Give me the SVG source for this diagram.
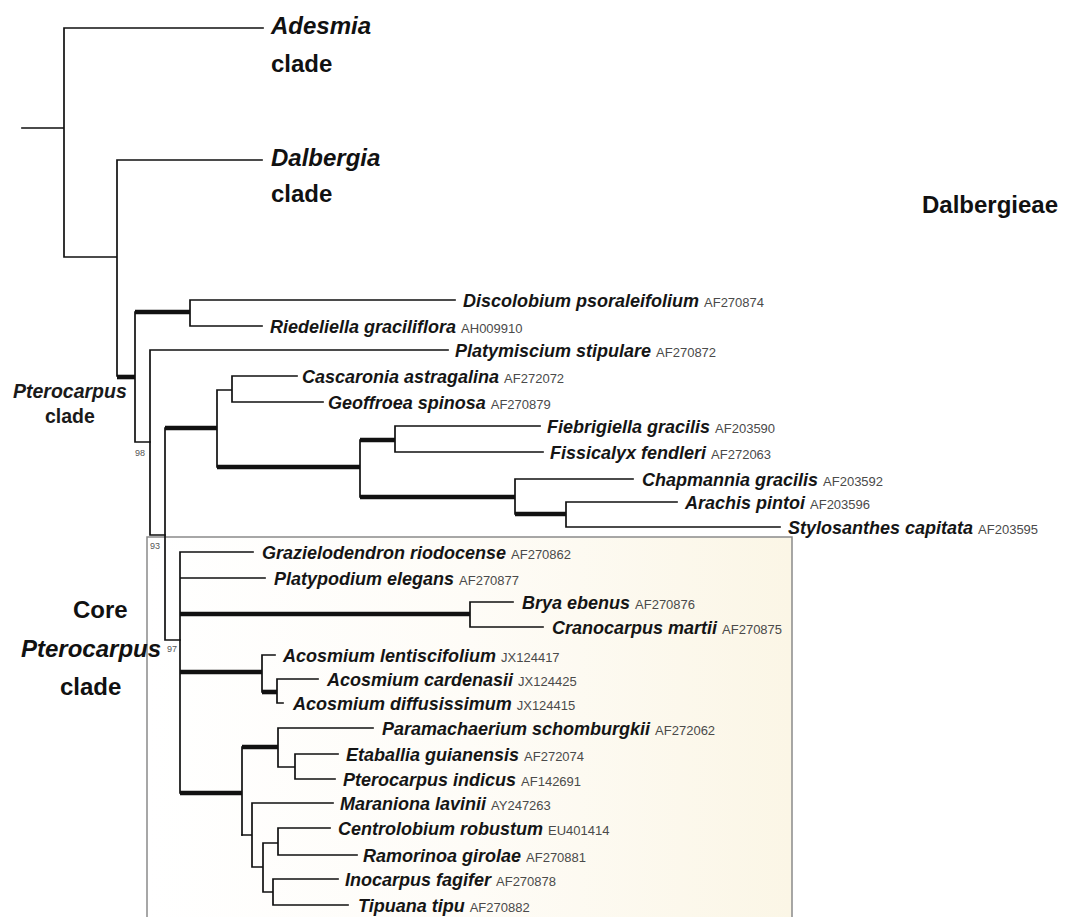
<svg xmlns="http://www.w3.org/2000/svg" width="1074" height="917" viewBox="0 0 1074 917">
<defs>
<linearGradient id="boxfill" x1="0" y1="0" x2="1" y2="0">
<stop offset="0" stop-color="#ffffff"/>
<stop offset="0.5" stop-color="#fefcf7"/>
<stop offset="1" stop-color="#fbf6e6"/>
</linearGradient>
<style>
.br{stroke:#111;stroke-width:1.7;fill:none;stroke-linecap:square}
.tk{stroke:#111;stroke-width:4.6;fill:none;stroke-linecap:butt}
.sp{font-family:"Liberation Sans",Arial,sans-serif;font-weight:bold;font-style:italic;font-size:18px;fill:#151515}
.acc{font-family:"Liberation Sans",Arial,sans-serif;font-weight:normal;font-style:normal;font-size:13px;fill:#4a4a4a}
.big{font-family:"Liberation Sans",Arial,sans-serif;font-weight:bold;font-size:24px;fill:#111}
.bigi{font-family:"Liberation Sans",Arial,sans-serif;font-weight:bold;font-style:italic;font-size:24px;fill:#111}
.mid{font-family:"Liberation Sans",Arial,sans-serif;font-weight:bold;font-size:19.5px;fill:#1a1a1a}
.bs{font-family:"Liberation Sans",Arial,sans-serif;font-size:9px;fill:#555}
</style>
</defs>
<rect width="1074" height="917" fill="#ffffff"/>

<g id="core-box">
<rect x="147" y="537" width="645" height="390" fill="url(#boxfill)" stroke="#8a8a8a" stroke-width="1.5"/>
</g>

<g id="connectors">
<path class="br" d="M22 128H64M64 28V257M64 28H263M64 257H117M117 160V376M117 160H262"/>
<path class="tk" d="M117 377H135"/>
<path class="br" d="M135 312V442M135 442H150"/>
<path class="tk" d="M135 312H190"/>
<path class="br" d="M190 300V326M190 300H455M190 326H262"/>
<path class="br" d="M150 350V535M150 350H448M150 535H165"/>
<path class="br" d="M165 428V640M165 640H180"/>
<path class="tk" d="M165 428H217"/>
<path class="br" d="M217 390V467M217 390H232M232 376V402M232 376H297M232 402H323"/>
<path class="tk" d="M217 467H360"/>
<path class="br" d="M360 440V497"/>
<path class="tk" d="M360 440H395"/>
<path class="br" d="M395 426V452M395 426H540M395 452H543"/>
<path class="tk" d="M360 497H515"/>
<path class="br" d="M515 479V514M515 479H633"/>
<path class="tk" d="M515 514H566"/>
<path class="br" d="M566 502V527M566 502H677M566 527H780"/>
<path class="br" d="M180 552V793M180 552H253M180 578H265"/>
<path class="tk" d="M180 614H470"/>
<path class="br" d="M470 602V627M470 602H513M470 627H543"/>
<path class="tk" d="M180 672H262"/>
<path class="br" d="M262 655V692M262 655H275"/>
<path class="tk" d="M262 692H277"/>
<path class="br" d="M277 679V703M277 679H318M277 703H283"/>
<path class="tk" d="M180 793H242"/>
<path class="br" d="M242 747V835"/>
<path class="tk" d="M242 747H278"/>
<path class="br" d="M278 728V767M278 728H373M278 767H295M295 754V779M295 754H338M295 779H335"/>
<path class="br" d="M242 835H252M252 803V867M252 803H333M252 867H263M263 843V892M263 843H278M278 828V855M278 828H330M278 855H357M263 892H273M273 879V905M273 879H338M273 905H348"/>
</g>

<g id="support-values">
<text class="bs" x="135" y="456">98</text>
<text class="bs" x="150" y="549">93</text>
<text class="bs" x="167" y="652">97</text>
</g>

<g id="clade-adesmia"><text class="bigi" x="271" y="34">Adesmia</text><text class="big" x="271" y="72">clade</text></g>
<g id="clade-dalbergia"><text class="bigi" x="271" y="166">Dalbergia</text><text class="big" x="271" y="202">clade</text></g>
<g id="tribe-dalbergieae"><text class="big" x="922" y="213">Dalbergieae</text></g>
<g id="clade-pterocarpus"><text class="mid" x="13" y="398" font-style="italic">Pterocarpus</text><text class="mid" x="45" y="423">clade</text></g>
<g id="clade-core"><text class="big" x="73" y="618">Core</text><text class="bigi" x="21" y="657">Pterocarpus</text><text class="big" x="60" y="695">clade</text></g>

<g id="t-discolobium"><text class="sp" x="463" y="307">Discolobium psoraleifolium <tspan class="acc">AF270874</tspan></text></g>
<g id="t-riedeliella"><text class="sp" x="270" y="333">Riedeliella graciliflora <tspan class="acc">AH009910</tspan></text></g>
<g id="t-platymiscium"><text class="sp" x="455" y="357">Platymiscium stipulare <tspan class="acc">AF270872</tspan></text></g>
<g id="t-cascaronia"><text class="sp" x="302" y="383">Cascaronia astragalina <tspan class="acc">AF272072</tspan></text></g>
<g id="t-geoffroea"><text class="sp" x="328" y="409">Geoffroea spinosa <tspan class="acc">AF270879</tspan></text></g>
<g id="t-fiebrigiella"><text class="sp" x="547" y="433">Fiebrigiella gracilis <tspan class="acc">AF203590</tspan></text></g>
<g id="t-fissicalyx"><text class="sp" x="550" y="459">Fissicalyx fendleri <tspan class="acc">AF272063</tspan></text></g>
<g id="t-chapmannia"><text class="sp" x="642" y="486">Chapmannia gracilis <tspan class="acc">AF203592</tspan></text></g>
<g id="t-arachis"><text class="sp" x="685" y="509">Arachis pintoi <tspan class="acc">AF203596</tspan></text></g>
<g id="t-stylosanthes"><text class="sp" x="788" y="534">Stylosanthes capitata <tspan class="acc">AF203595</tspan></text></g>
<g id="t-grazielodendron"><text class="sp" x="262" y="559">Grazielodendron riodocense <tspan class="acc">AF270862</tspan></text></g>
<g id="t-platypodium"><text class="sp" x="274" y="585">Platypodium elegans <tspan class="acc">AF270877</tspan></text></g>
<g id="t-brya"><text class="sp" x="522" y="609">Brya ebenus <tspan class="acc">AF270876</tspan></text></g>
<g id="t-cranocarpus"><text class="sp" x="552" y="634">Cranocarpus martii <tspan class="acc">AF270875</tspan></text></g>
<g id="t-acosmium-l"><text class="sp" x="283" y="662">Acosmium lentiscifolium <tspan class="acc">JX124417</tspan></text></g>
<g id="t-acosmium-c"><text class="sp" x="327" y="686">Acosmium cardenasii <tspan class="acc">JX124425</tspan></text></g>
<g id="t-acosmium-d"><text class="sp" x="293" y="710">Acosmium diffusissimum <tspan class="acc">JX124415</tspan></text></g>
<g id="t-paramachaerium"><text class="sp" x="382" y="735">Paramachaerium schomburgkii <tspan class="acc">AF272062</tspan></text></g>
<g id="t-etaballia"><text class="sp" x="346" y="761">Etaballia guianensis <tspan class="acc">AF272074</tspan></text></g>
<g id="t-pterocarpus-i"><text class="sp" x="343" y="786">Pterocarpus indicus <tspan class="acc">AF142691</tspan></text></g>
<g id="t-maraniona"><text class="sp" x="340" y="810">Maraniona lavinii <tspan class="acc">AY247263</tspan></text></g>
<g id="t-centrolobium"><text class="sp" x="338" y="835">Centrolobium robustum <tspan class="acc">EU401414</tspan></text></g>
<g id="t-ramorinoa"><text class="sp" x="363" y="862">Ramorinoa girolae <tspan class="acc">AF270881</tspan></text></g>
<g id="t-inocarpus"><text class="sp" x="345" y="886">Inocarpus fagifer <tspan class="acc">AF270878</tspan></text></g>
<g id="t-tipuana"><text class="sp" x="358" y="912">Tipuana tipu <tspan class="acc">AF270882</tspan></text></g>
</svg>
